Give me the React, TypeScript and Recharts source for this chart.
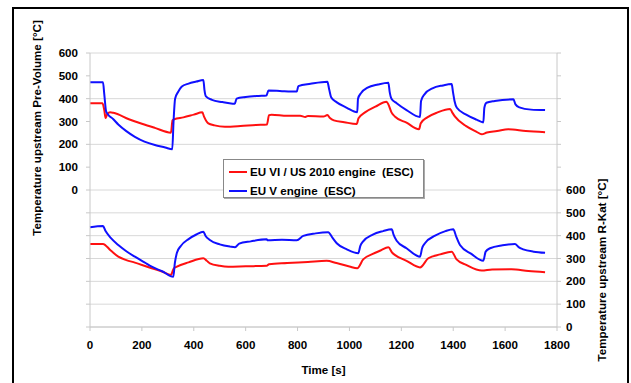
import { LineChart, Line, XAxis, YAxis, CartesianGrid } from 'recharts';

const TIME_TICKS = [0, 200, 400, 600, 800, 1000, 1200, 1400, 1600, 1800];
// left axis covers the upper half, right axis the lower half
const PRE_TICKS = [-600, -500, -400, -300, -200, -100, 0, 100, 200, 300, 400, 500, 600];
const KAT_TICKS = [0, 100, 200, 300, 400, 500, 600, 700, 800, 900, 1000, 1100, 1200];

const SERIES_NAMES = ['EU VI / US 2010 engine  (ESC)', 'EU V engine  (ESC)'];

// [time s, temperature °C] upstream Pre-Volume
const preEu6: [number, number][] = [
  [0, 380], [48, 380], [55, 350], [60, 315], [65, 328], [77, 340], [90, 338], [150, 310], [200, 290],
  [250, 272], [312, 251], [318, 305], [325, 310], [360, 318], [400, 330], [433, 340], [440, 320],
  [456, 292], [480, 283], [520, 277], [580, 280], [640, 285], [682, 287], [690, 328], [700, 330],
  [760, 325], [810, 325], [830, 320], [840, 324], [900, 322], [915, 328], [925, 315], [940, 305],
  [980, 297], [1028, 289], [1035, 314], [1060, 340], [1100, 365], [1143, 387], [1150, 375],
  [1162, 340], [1176, 321], [1220, 295], [1268, 266], [1275, 292], [1300, 318], [1340, 340],
  [1388, 355], [1396, 340], [1407, 321], [1450, 280], [1490, 255], [1510, 244], [1530, 252],
  [1569, 258], [1612, 266], [1680, 258], [1754, 253],
];
const preEu5: [number, number][] = [
  [0, 472], [50, 472], [55, 420], [62, 345], [68, 333], [90, 310], [109, 287], [140, 258], [173, 233],
  [210, 212], [250, 197], [290, 186], [317, 178], [322, 300], [328, 400], [340, 430], [353, 452],
  [380, 466], [410, 475], [437, 482], [441, 440], [447, 410], [470, 395], [510, 385], [550, 378],
  [558, 378], [565, 400], [600, 407], [650, 412], [680, 414], [688, 436], [740, 433], [797, 431],
  [803, 455], [850, 465], [915, 474], [922, 440], [930, 405], [950, 385], [990, 360], [1030, 340],
  [1033, 400], [1045, 425], [1070, 448], [1110, 462], [1150, 470], [1155, 430], [1162, 400],
  [1182, 380], [1220, 350], [1272, 320], [1276, 390], [1290, 420], [1320, 445], [1360, 458],
  [1394, 464], [1399, 430], [1405, 390], [1414, 360], [1450, 330], [1490, 308], [1516, 296],
  [1520, 360], [1528, 382], [1560, 390], [1632, 397], [1640, 375], [1655, 362], [1700, 352], [1754, 350],
];

// [time s, temperature °C] upstream R-Kat
const katEu6: [number, number][] = [
  [0, 364], [50, 364], [80, 335], [109, 308], [140, 293], [173, 282], [238, 257], [280, 242],
  [312, 228], [322, 255], [335, 264], [380, 283], [437, 301], [450, 290], [462, 279], [500, 268],
  [533, 264], [600, 266], [681, 268], [690, 275], [760, 280], [840, 285], [912, 290], [950, 280],
  [1000, 265], [1030, 257], [1053, 296], [1090, 320], [1120, 335], [1150, 349], [1165, 325],
  [1176, 315], [1220, 290], [1272, 261], [1304, 301], [1350, 318], [1394, 330], [1413, 296],
  [1450, 272], [1510, 247], [1550, 252], [1625, 253], [1690, 245], [1754, 240],
];
const katEu5: [number, number][] = [
  [0, 437], [50, 442], [60, 420], [80, 390], [109, 359], [140, 332], [173, 308], [210, 283],
  [238, 264], [280, 243], [321, 220], [327, 280], [335, 325], [350, 355], [380, 385], [410, 405],
  [437, 417], [445, 400], [462, 381], [500, 362], [540, 352], [559, 349], [575, 365], [620, 375],
  [681, 384], [685, 380], [740, 382], [797, 380], [822, 399], [870, 410], [918, 415], [935, 390],
  [951, 367], [990, 340], [1034, 323], [1042, 355], [1052, 374], [1090, 405], [1130, 420],
  [1163, 428], [1170, 405], [1182, 378], [1220, 345], [1272, 308], [1280, 345], [1291, 367],
  [1330, 400], [1370, 420], [1400, 428], [1412, 395], [1426, 359], [1470, 320], [1516, 290],
  [1525, 330], [1542, 345], [1590, 358], [1638, 364], [1652, 350], [1670, 340], [1710, 330], [1754, 325],
];

const RED = '#ff1010';
const BLUE = '#1010ff';
const FONT = 'Arial, "Liberation Sans", sans-serif';
const FS = 11.6;

const toRows = (pts: [number, number][]) => pts.map(([t, v]) => ({ t, v }));

const tickStyle = { fontSize: FS, fontWeight: 700, fill: '#000', fontFamily: FONT };
const titleStyle = { fontSize: FS, fontWeight: 700, fontFamily: FONT };

export default function App() {
  return (
    <div style={{ position: 'absolute', left: 0, top: 0, width: 631, height: 383, overflow: 'hidden', background: '#fff' }}>
      <div
        style={{
          position: 'absolute', left: 12, top: 7, width: 617, height: 420,
          border: '2px solid #000', boxSizing: 'border-box',
        }}
      />
      <div style={{ position: 'absolute', left: 0, top: 0 }}>
        <LineChart width={631} height={383} margin={{ top: 53, right: 0, bottom: 0, left: 0 }}>
          <CartesianGrid yAxisId="pre" vertical={false} stroke="#d8d8d8" />
          <XAxis
            dataKey="t"
            type="number"
            domain={[0, 1800]}
            ticks={TIME_TICKS}
            height={56}
            stroke="#c8c8c8"
            tickSize={4}
            tickMargin={10}
            tick={tickStyle}
            label={{
              content: ({ viewBox }: any) => (
                <text x={viewBox.x + viewBox.width / 2} y={viewBox.y + 47} textAnchor="middle"
                  style={titleStyle} fill="#000">Time [s]</text>
              ),
            }}
          />
          <YAxis
            yAxisId="pre"
            domain={[-600, 600]}
            ticks={PRE_TICKS}
            width={90}
            stroke="#c8c8c8"
            tickSize={4}
            tickMargin={8}
            tick={tickStyle}
            tickFormatter={(v: number) => (v < 0 ? '' : String(v))}
            label={{
              content: ({ viewBox }: any) => {
                const x = viewBox.x + 41;
                const y = viewBox.y + 75;
                return (
                  <text x={x} y={y} textAnchor="middle" transform={`rotate(-90 ${x} ${y})`}
                    style={titleStyle} fill="#000">
                    Temperature upstream Pre-Volume [°C]
                  </text>
                );
              },
            }}
          />
          <YAxis
            yAxisId="kat"
            orientation="right"
            domain={[0, 1200]}
            ticks={KAT_TICKS}
            width={74}
            stroke="#c8c8c8"
            tickSize={4}
            tickMargin={5}
            tick={tickStyle}
            tickFormatter={(v: number) => (v > 600 ? '' : String(v))}
            label={{
              content: ({ viewBox }: any) => {
                const x = viewBox.x + 49;
                const y = viewBox.y + 217;
                return (
                  <text x={x} y={y} textAnchor="middle" transform={`rotate(-90 ${x} ${y})`}
                    style={titleStyle} fill="#000">
                    Temperature upstream R-Kat [°C]
                  </text>
                );
              },
            }}
          />
          <Line yAxisId="pre" data={toRows(preEu6)} dataKey="v" type="monotone" stroke={RED} strokeWidth={2} dot={false} isAnimationActive={false} />
          <Line yAxisId="pre" data={toRows(preEu5)} dataKey="v" type="monotone" stroke={BLUE} strokeWidth={2} dot={false} isAnimationActive={false} />
          <Line yAxisId="kat" data={toRows(katEu6)} dataKey="v" type="monotone" stroke={RED} strokeWidth={2} dot={false} isAnimationActive={false} />
          <Line yAxisId="kat" data={toRows(katEu5)} dataKey="v" type="monotone" stroke={BLUE} strokeWidth={2} dot={false} isAnimationActive={false} />
        </LineChart>
      </div>
      <div
        style={{
          position: 'absolute', left: 223, top: 159, width: 201, height: 39, boxSizing: 'border-box',
          border: '1px solid #888', background: '#fff', boxShadow: '1px 1px 0 #aaa',
          fontFamily: FONT, fontSize: FS, fontWeight: 700, color: '#000', padding: '2px 0 0 5px',
        }}
      >
        {SERIES_NAMES.map((name, i) => (
          <div key={name} style={{ display: 'flex', alignItems: 'center', height: 19, whiteSpace: 'pre' }}>
            <span style={{ display: 'inline-block', width: 18, height: 2, background: i === 0 ? RED : BLUE, marginRight: 3 }} />
            {name}
          </div>
        ))}
      </div>
    </div>
  );
}
